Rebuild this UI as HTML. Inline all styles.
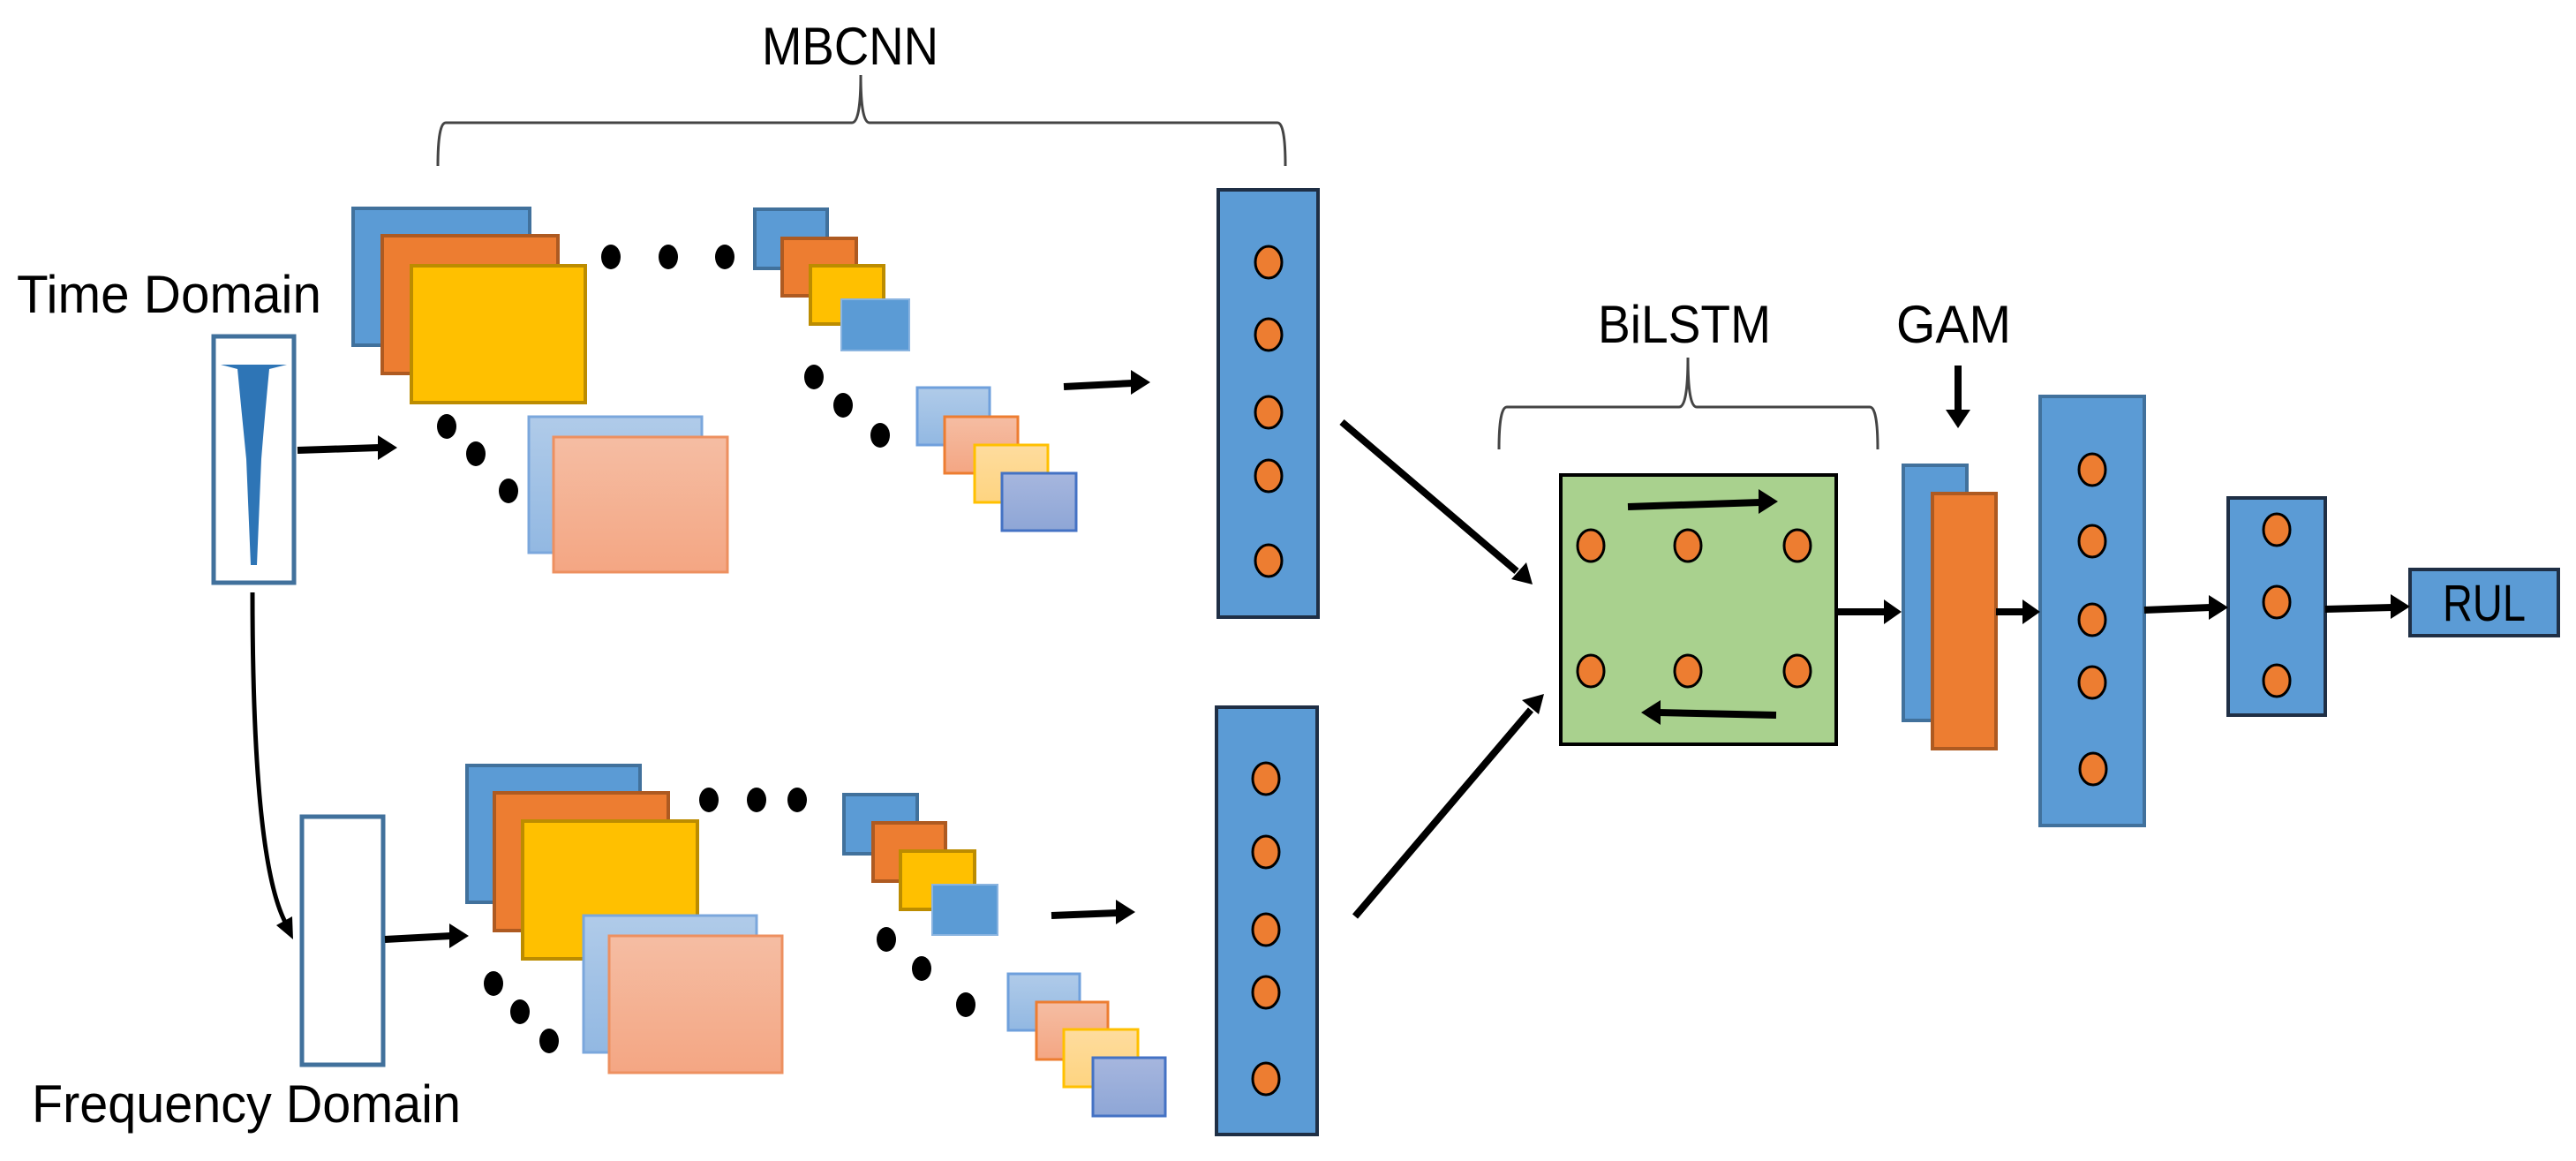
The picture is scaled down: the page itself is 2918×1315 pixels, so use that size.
<!DOCTYPE html>
<html><head><meta charset="utf-8"><style>
html,body{margin:0;padding:0;background:#fff;}
svg{display:block;}
text{font-family:"Liberation Sans",sans-serif;fill:#000;}
</style></head><body>
<svg width="2918" height="1315" viewBox="0 0 2918 1315" xmlns="http://www.w3.org/2000/svg">
<defs>
<linearGradient id="lb" x1="0" y1="0" x2="0" y2="1"><stop offset="0" stop-color="#b0cbe9"/><stop offset="1" stop-color="#92b8e2"/></linearGradient>
<linearGradient id="sa" x1="0" y1="0" x2="0" y2="1"><stop offset="0" stop-color="#f5bda3"/><stop offset="1" stop-color="#f4a683"/></linearGradient>
<linearGradient id="ly" x1="0" y1="0" x2="0" y2="1"><stop offset="0" stop-color="#fedc9e"/><stop offset="1" stop-color="#fed480"/></linearGradient>
<linearGradient id="lv" x1="0" y1="0" x2="0" y2="1"><stop offset="0" stop-color="#a6b6de"/><stop offset="1" stop-color="#8ea6d6"/></linearGradient>
</defs>

<!-- Labels -->
<text x="963" y="73" font-size="60" text-anchor="middle" textLength="200" lengthAdjust="spacingAndGlyphs">MBCNN</text>
<text x="19" y="354" font-size="60" textLength="345" lengthAdjust="spacingAndGlyphs">Time Domain</text>
<text x="36" y="1271" font-size="60" textLength="486" lengthAdjust="spacingAndGlyphs">Frequency Domain</text>
<text x="1908" y="388" font-size="60" text-anchor="middle" textLength="196" lengthAdjust="spacingAndGlyphs">BiLSTM</text>
<text x="2213" y="388" font-size="60" text-anchor="middle" textLength="130" lengthAdjust="spacingAndGlyphs">GAM</text>

<!-- Braces -->
<path d="M496 188 Q496 139 505 139 L965 139 Q975 139 975 85 Q975 139 985 139 L1447 139 Q1456 139 1456 188" fill="none" stroke="#444" stroke-width="3"/>
<path d="M1698 509 Q1698 461 1707 461 L1902 461 Q1912 461 1912 405 Q1912 461 1922 461 L2118 461 Q2127 461 2127 509" fill="none" stroke="#444" stroke-width="3"/>

<!-- Time domain box -->
<rect x="242" y="381" width="91" height="279" fill="#fff" stroke="#41719c" stroke-width="5"/>
<path d="M250 413 L325 413 L305 418 Q300 470 296 520 L291 640 L284 640 L279 520 Q274 470 269 418 Z" fill="#2e75b6"/>
<rect x="284" y="500" width="7" height="134" fill="#2e75b6"/>

<!-- Frequency box -->
<rect x="342" y="925" width="92" height="281" fill="#fff" stroke="#41719c" stroke-width="5"/>

<!-- Top large stack -->
<rect x="400" y="236" width="200" height="155" fill="#5b9bd5" stroke="#41719c" stroke-width="4"/>
<rect x="433" y="267" width="199" height="156" fill="#ed7d31" stroke="#ae5a21" stroke-width="4"/>
<rect x="466" y="301" width="197" height="155" fill="#ffc000" stroke="#bc8c00" stroke-width="4"/>
<rect x="599" y="472" width="196" height="154" fill="url(#lb)" stroke="#7ba7dc" stroke-width="3"/>
<rect x="627" y="495" width="197" height="153" fill="url(#sa)" stroke="#ed9060" stroke-width="3"/>

<!-- top small stack -->
<rect x="855" y="237" width="82" height="67" fill="#5b9bd5" stroke="#41719c" stroke-width="4"/>
<rect x="886" y="270" width="84" height="65" fill="#ed7d31" stroke="#ae5a21" stroke-width="4"/>
<rect x="918" y="301" width="83" height="66" fill="#ffc000" stroke="#bc8c00" stroke-width="4"/>
<rect x="953" y="339" width="77" height="58" fill="#5b9bd5" stroke="#8ab4e0" stroke-width="2"/>
<rect x="1039" y="439" width="82" height="65" fill="url(#lb)" stroke="#6fa0dc" stroke-width="3"/>
<rect x="1070" y="472" width="83" height="64" fill="url(#sa)" stroke="#ed7d31" stroke-width="3"/>
<rect x="1104" y="504" width="83" height="65" fill="url(#ly)" stroke="#ffc000" stroke-width="3"/>
<rect x="1135" y="536" width="84" height="65" fill="url(#lv)" stroke="#4472c4" stroke-width="3"/>

<!-- bottom large stack -->
<rect x="529" y="867" width="196" height="155" fill="#5b9bd5" stroke="#41719c" stroke-width="4"/>
<rect x="560" y="898" width="197" height="156" fill="#ed7d31" stroke="#ae5a21" stroke-width="4"/>
<rect x="592" y="930" width="198" height="156" fill="#ffc000" stroke="#bc8c00" stroke-width="4"/>
<rect x="661" y="1037" width="196" height="155" fill="url(#lb)" stroke="#7ba7dc" stroke-width="3"/>
<rect x="690" y="1060" width="196" height="155" fill="url(#sa)" stroke="#ed9060" stroke-width="3"/>

<!-- bottom small stack -->
<rect x="956" y="900" width="83" height="67" fill="#5b9bd5" stroke="#41719c" stroke-width="4"/>
<rect x="989" y="932" width="82" height="66" fill="#ed7d31" stroke="#ae5a21" stroke-width="4"/>
<rect x="1020" y="964" width="84" height="66" fill="#ffc000" stroke="#bc8c00" stroke-width="4"/>
<rect x="1056" y="1002" width="74" height="57" fill="#5b9bd5" stroke="#8ab4e0" stroke-width="2"/>
<rect x="1142" y="1103" width="81" height="64" fill="url(#lb)" stroke="#6fa0dc" stroke-width="3"/>
<rect x="1174" y="1135" width="81" height="65" fill="url(#sa)" stroke="#ed7d31" stroke-width="3"/>
<rect x="1205" y="1166" width="84" height="65" fill="url(#ly)" stroke="#ffc000" stroke-width="3"/>
<rect x="1238" y="1198" width="82" height="66" fill="url(#lv)" stroke="#4472c4" stroke-width="3"/>

<!-- dots -->
<g fill="#000">
<ellipse cx="692" cy="291" rx="11" ry="14"/><ellipse cx="757" cy="291" rx="11" ry="14"/><ellipse cx="821" cy="291" rx="11" ry="14"/>
<ellipse cx="922" cy="427" rx="11" ry="14"/><ellipse cx="955" cy="459" rx="11" ry="14"/><ellipse cx="997" cy="493" rx="11" ry="14"/>
<ellipse cx="506" cy="483" rx="11" ry="14"/><ellipse cx="539" cy="514" rx="11" ry="14"/><ellipse cx="576" cy="556" rx="11" ry="14"/>
<ellipse cx="803" cy="906" rx="11" ry="14"/><ellipse cx="857" cy="906" rx="11" ry="14"/><ellipse cx="903" cy="906" rx="11" ry="14"/>
<ellipse cx="559" cy="1114" rx="11" ry="14"/><ellipse cx="589" cy="1146" rx="11" ry="14"/><ellipse cx="622" cy="1179" rx="11" ry="14"/>
<ellipse cx="1004" cy="1064" rx="11" ry="14"/><ellipse cx="1044" cy="1097" rx="11" ry="14"/><ellipse cx="1094" cy="1138" rx="11" ry="14"/>
</g>

<!-- Vectors -->
<rect x="1380" y="215" width="113" height="484" fill="#5b9bd5" stroke="#1f2f45" stroke-width="4"/>
<rect x="1378" y="801" width="114" height="484" fill="#5b9bd5" stroke="#1f2f45" stroke-width="4"/>
<g fill="#ed7d31" stroke="#000" stroke-width="3">
<ellipse cx="1437" cy="297" rx="15" ry="18"/><ellipse cx="1437" cy="379" rx="15" ry="18"/><ellipse cx="1437" cy="467" rx="15" ry="18"/><ellipse cx="1437" cy="539" rx="15" ry="18"/><ellipse cx="1437" cy="635" rx="15" ry="18"/>
<ellipse cx="1434" cy="882" rx="15" ry="18"/><ellipse cx="1434" cy="965" rx="15" ry="18"/><ellipse cx="1434" cy="1053" rx="15" ry="18"/><ellipse cx="1434" cy="1124" rx="15" ry="18"/><ellipse cx="1434" cy="1222" rx="15" ry="18"/>
</g>

<!-- Green BiLSTM -->
<rect x="1768" y="538" width="312" height="305" fill="#a9d18e" stroke="#000" stroke-width="4"/>
<g fill="#ed7d31" stroke="#000" stroke-width="3">
<ellipse cx="1802" cy="618" rx="15" ry="18"/><ellipse cx="1912" cy="618" rx="15" ry="18"/><ellipse cx="2036" cy="618" rx="15" ry="18"/>
<ellipse cx="1802" cy="760" rx="15" ry="18"/><ellipse cx="1912" cy="760" rx="15" ry="18"/><ellipse cx="2036" cy="760" rx="15" ry="18"/>
</g>

<!-- GAM -->
<rect x="2156" y="527" width="72" height="289" fill="#5b9bd5" stroke="#41719c" stroke-width="4"/>
<rect x="2189" y="559" width="72" height="289" fill="#ed7d31" stroke="#ae5a21" stroke-width="4"/>

<!-- Dense vectors -->
<rect x="2311" y="449" width="118" height="486" fill="#5b9bd5" stroke="#41719c" stroke-width="4"/>
<g fill="#ed7d31" stroke="#000" stroke-width="3">
<ellipse cx="2370" cy="532" rx="15" ry="18"/><ellipse cx="2370" cy="613" rx="15" ry="18"/><ellipse cx="2370" cy="702" rx="15" ry="18"/><ellipse cx="2370" cy="773" rx="15" ry="18"/><ellipse cx="2371" cy="871" rx="15" ry="18"/>
</g>
<rect x="2524" y="564" width="110" height="246" fill="#5b9bd5" stroke="#1f2f45" stroke-width="4"/>
<g fill="#ed7d31" stroke="#000" stroke-width="3">
<ellipse cx="2579" cy="600" rx="15" ry="18"/><ellipse cx="2579" cy="682" rx="15" ry="18"/><ellipse cx="2579" cy="771" rx="15" ry="18"/>
</g>
<rect x="2730" y="645" width="168" height="75" fill="#5b9bd5" stroke="#1f2f45" stroke-width="4"/>
<text x="2814" y="703" font-size="58" text-anchor="middle" textLength="94" lengthAdjust="spacingAndGlyphs">RUL</text>

<!-- Arrows -->
<g stroke="#000" stroke-width="8" fill="none">
<line x1="337" y1="510" x2="430" y2="507"/>
<line x1="1205" y1="438" x2="1283" y2="434"/>
<line x1="436" y1="1064" x2="511" y2="1060"/>
<line x1="1191" y1="1037" x2="1266" y2="1034"/>
<line x1="1520" y1="478" x2="1718" y2="647"/>
<line x1="1535" y1="1038" x2="1734" y2="804"/>
<line x1="1844" y1="574" x2="1994" y2="569"/>
<line x1="2012" y1="810" x2="1878" y2="807"/>
<line x1="2080" y1="693" x2="2136" y2="693"/>
<line x1="2261" y1="693" x2="2293" y2="693"/>
<line x1="2429" y1="691" x2="2504" y2="688"/>
<line x1="2634" y1="690" x2="2710" y2="688"/>
<line x1="2218" y1="414" x2="2218" y2="466"/>
</g>
<path d="M286 671 Q286 980 325 1048" stroke="#000" stroke-width="5" fill="none"/>
<g fill="#000">
<polygon points="450,507 428,493 428,521"/>
<polygon points="1303,433 1281,419 1281,447"/>
<polygon points="531,1060 509,1046 509,1074"/>
<polygon points="1286,1033 1264,1019 1264,1047"/>
<polygon points="1736,662 1712,656 1729,637"/>
<polygon points="1749,786 1743,809 1724,793"/>
<polygon points="2014,568 1992,554 1992,582"/>
<polygon points="1859,807 1881,793 1881,821"/>
<polygon points="2154,693 2134,679 2134,707"/>
<polygon points="2311,693 2291,679 2291,707"/>
<polygon points="2524,688 2502,674 2502,702"/>
<polygon points="2730,687 2708,673 2708,701"/>
<polygon points="2218,485 2204,464 2232,464"/>
<polygon points="332,1064 313,1048 331,1038"/>
</g>
</svg>
</body></html>
